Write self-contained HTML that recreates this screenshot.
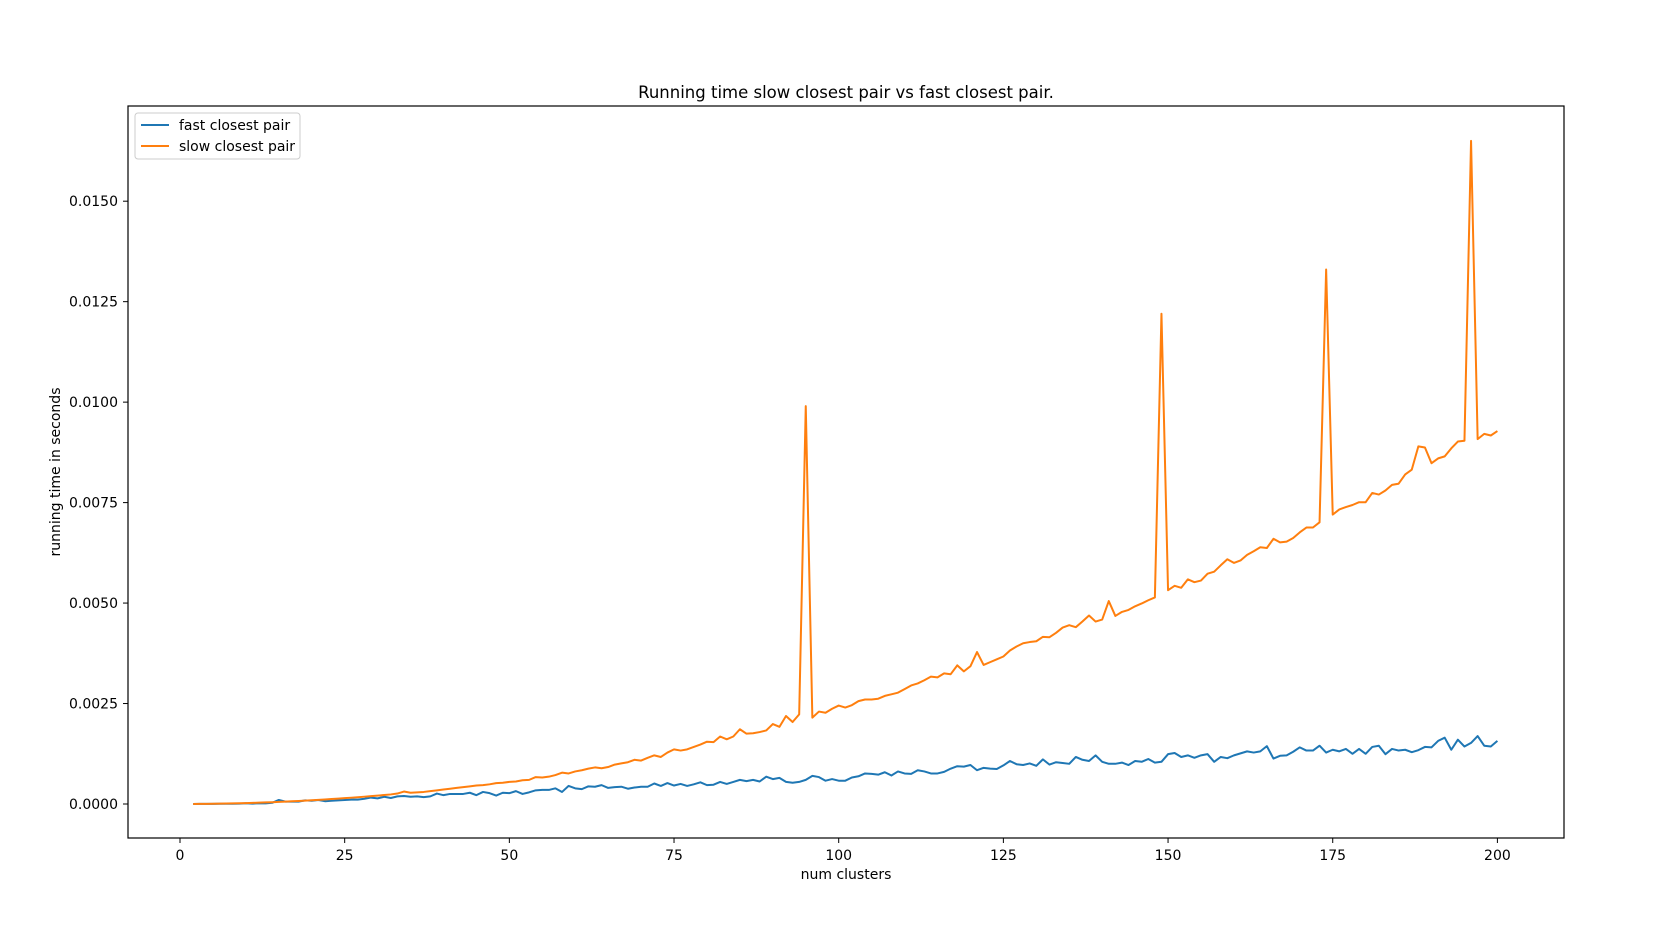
<!DOCTYPE html>
<html><head><meta charset="utf-8"><style>
html,body{margin:0;padding:0;background:#fff;}
svg{display:block;font-family:"DejaVu Sans","Liberation Sans",sans-serif;}
</style></head><body>
<svg id="chart" width="1669" height="938" viewBox="0 0 1669 938">
<rect x="0" y="0" width="1669" height="938" fill="#fff"/>
<text x="846" y="98" text-anchor="middle" font-size="16.5">Running time slow closest pair vs fast closest pair.</text>
<g id="plot"></g>
<rect x="128" y="106" width="1436" height="732" fill="none" stroke="#000" stroke-width="1.2"/>
<text x="846" y="879" text-anchor="middle" font-size="14">num clusters</text>
<text transform="translate(60,472) rotate(-90)" text-anchor="middle" font-size="14">running time in seconds</text>
<g>
<rect x="135" y="113" width="165" height="46" fill="#fff" stroke="#ccc" rx="3"/>
<line x1="141" y1="125" x2="169" y2="125" stroke="#1f77b4" stroke-width="2"/>
<text x="179" y="130" font-size="14">fast closest pair</text>
<line x1="141" y1="146" x2="169" y2="146" stroke="#ff7f0e" stroke-width="2"/>
<text x="179" y="151" font-size="14">slow closest pair</text>
</g>
</svg>
<script>
const xTicks=[0,25,50,75,100,125,150,175,200];
const yTicks=[0,0.0025,0.005,0.0075,0.01,0.0125,0.015];
const yTickLabels=["0.0000","0.0025","0.0050","0.0075","0.0100","0.0125","0.0150"];
const startN=2;
// values in units of 1e-4 seconds
const slowVals=[0.01,0.02,0.04,0.06,0.08,0.11,0.15,0.19,
0.23,0.28,0.33,0.39,0.45,0.52,0.6,0.67,0.75,0.84,
0.93,1.02,1.12,1.23,1.34,1.45,1.57,1.69,1.82,1.95,
2.09,2.23,2.38,2.6,3.1,2.8,2.9,3.0,3.2,3.4,
3.6,3.8,4.0,4.2,4.4,4.6,4.7,4.9,5.2,5.3,
5.5,5.6,5.9,6.0,6.7,6.6,6.8,7.2,7.8,7.6,
8.1,8.4,8.8,9.1,8.9,9.2,9.8,10.1,10.4,11.0,
10.8,11.5,12.1,11.7,12.8,13.6,13.3,13.6,14.2,14.8,
15.5,15.4,16.8,16.1,16.8,18.6,17.5,17.6,17.9,18.3,
19.9,19.2,21.9,20.4,22.3,99.0,21.5,23.0,22.7,23.7,
24.5,24.0,24.6,25.6,26.0,26.0,26.2,26.9,27.3,27.7,
28.6,29.5,30.0,30.8,31.7,31.5,32.5,32.3,34.5,33.0,
34.3,37.8,34.6,35.3,36.0,36.7,38.2,39.2,40.0,40.3,40.5,
41.6,41.5,42.6,43.9,44.5,44.0,45.4,46.9,45.4,45.9,
50.5,46.8,47.8,48.3,49.2,49.9,50.7,51.4,122.0,53.2,
54.3,53.8,55.9,55.2,55.6,57.3,57.8,59.4,60.9,60.0,
60.6,62.0,62.9,63.9,63.7,66.0,65.1,65.3,66.2,67.6,
68.8,68.8,70.1,133.0,72.0,73.3,73.9,74.4,75.1,75.1,
77.4,77.0,78.0,79.4,79.7,82.0,83.2,89.0,88.7,84.8,
86.0,86.5,88.5,90.2,90.4,165.0,90.8,92.1,91.7,92.8];
const fastVals=[0.01,0.02,0.03,0.04,0.05,0.06,0.07,0.08,
0.2,0.1,0.2,0.15,0.3,1.0,0.6,0.6,0.6,0.9,
0.8,1.0,0.7,0.8,0.9,1.0,1.1,1.1,1.3,1.6,
1.4,1.8,1.5,1.9,2.0,1.8,1.9,1.7,1.9,2.6,
2.2,2.5,2.5,2.5,2.8,2.2,3.0,2.7,2.1,2.8,
2.7,3.2,2.5,2.9,3.4,3.5,3.5,3.9,3.0,4.5,
3.9,3.7,4.4,4.3,4.7,4.0,4.2,4.3,3.8,4.1,
4.3,4.3,5.1,4.5,5.2,4.6,5.0,4.5,4.9,5.4,
4.7,4.8,5.5,5.0,5.5,6.0,5.7,6.0,5.6,6.8,
6.2,6.5,5.5,5.3,5.5,6.0,7.0,6.7,5.8,6.2,
5.8,5.8,6.6,6.9,7.6,7.5,7.3,7.9,7.1,8.1,
7.6,7.5,8.4,8.1,7.6,7.6,8.0,8.8,9.4,9.3,
9.7,8.4,9.0,8.8,8.7,9.6,10.7,9.9,9.7,10.1,9.5,
11.1,9.8,10.4,10.2,10.0,11.7,11.0,10.7,12.1,10.5,
10.0,10.0,10.3,9.7,10.7,10.5,11.2,10.3,10.5,12.4,
12.7,11.7,12.1,11.5,12.1,12.4,10.5,11.7,11.4,12.1,
12.6,13.1,12.8,13.1,14.4,11.3,12.0,12.1,13.0,14.1,
13.3,13.3,14.5,12.8,13.5,13.1,13.7,12.5,13.7,12.5,
14.2,14.5,12.4,13.7,13.3,13.5,12.9,13.4,14.2,14.1,
15.7,16.5,13.5,16.0,14.3,15.2,16.9,14.5,14.3,15.7];
const NS="http://www.w3.org/2000/svg";
function xS(v){return 180+v*6.587;}
function yS(v){return 804-v*40187;}
const plot=document.getElementById('plot');
xTicks.forEach(t=>{
  const l=document.createElementNS(NS,'line');
  l.setAttribute('x1',xS(t));l.setAttribute('x2',xS(t));l.setAttribute('y1',838);l.setAttribute('y2',843);l.setAttribute('stroke','#000');
  
  
  plot.appendChild(l);
  const tx=document.createElementNS(NS,'text');
  tx.setAttribute('x',xS(t));tx.setAttribute('y',860);tx.setAttribute('text-anchor','middle');tx.setAttribute('font-size','14');
  tx.textContent=t;
  
  
  plot.appendChild(tx);
});
yTicks.forEach((t,i)=>{
  const l=document.createElementNS(NS,'line');
  l.setAttribute('x1',123);l.setAttribute('x2',128);l.setAttribute('y1',yS(t));l.setAttribute('y2',yS(t));l.setAttribute('stroke','#000');
  
  
  plot.appendChild(l);
  const tx=document.createElementNS(NS,'text');
  tx.setAttribute('x',118);tx.setAttribute('y',yS(t)+5);tx.setAttribute('text-anchor','end');tx.setAttribute('font-size','14');
  tx.textContent=yTickLabels[i];
  
  
  plot.appendChild(tx);
});
function series(vals,color,name){
  const p=document.createElementNS(NS,'polyline');
  p.setAttribute('points',vals.map((v,i)=>xS(startN+i).toFixed(2)+','+yS(v*1e-4).toFixed(2)).join(' '));
  p.setAttribute('fill','none');p.setAttribute('stroke',color);p.setAttribute('stroke-width','2');p.setAttribute('stroke-linejoin','round');
  
  
  plot.appendChild(p);
}
series(fastVals,'#1f77b4','fast-closest-pair-line');
series(slowVals,'#ff7f0e','slow-closest-pair-line');
</script>
</body></html>
